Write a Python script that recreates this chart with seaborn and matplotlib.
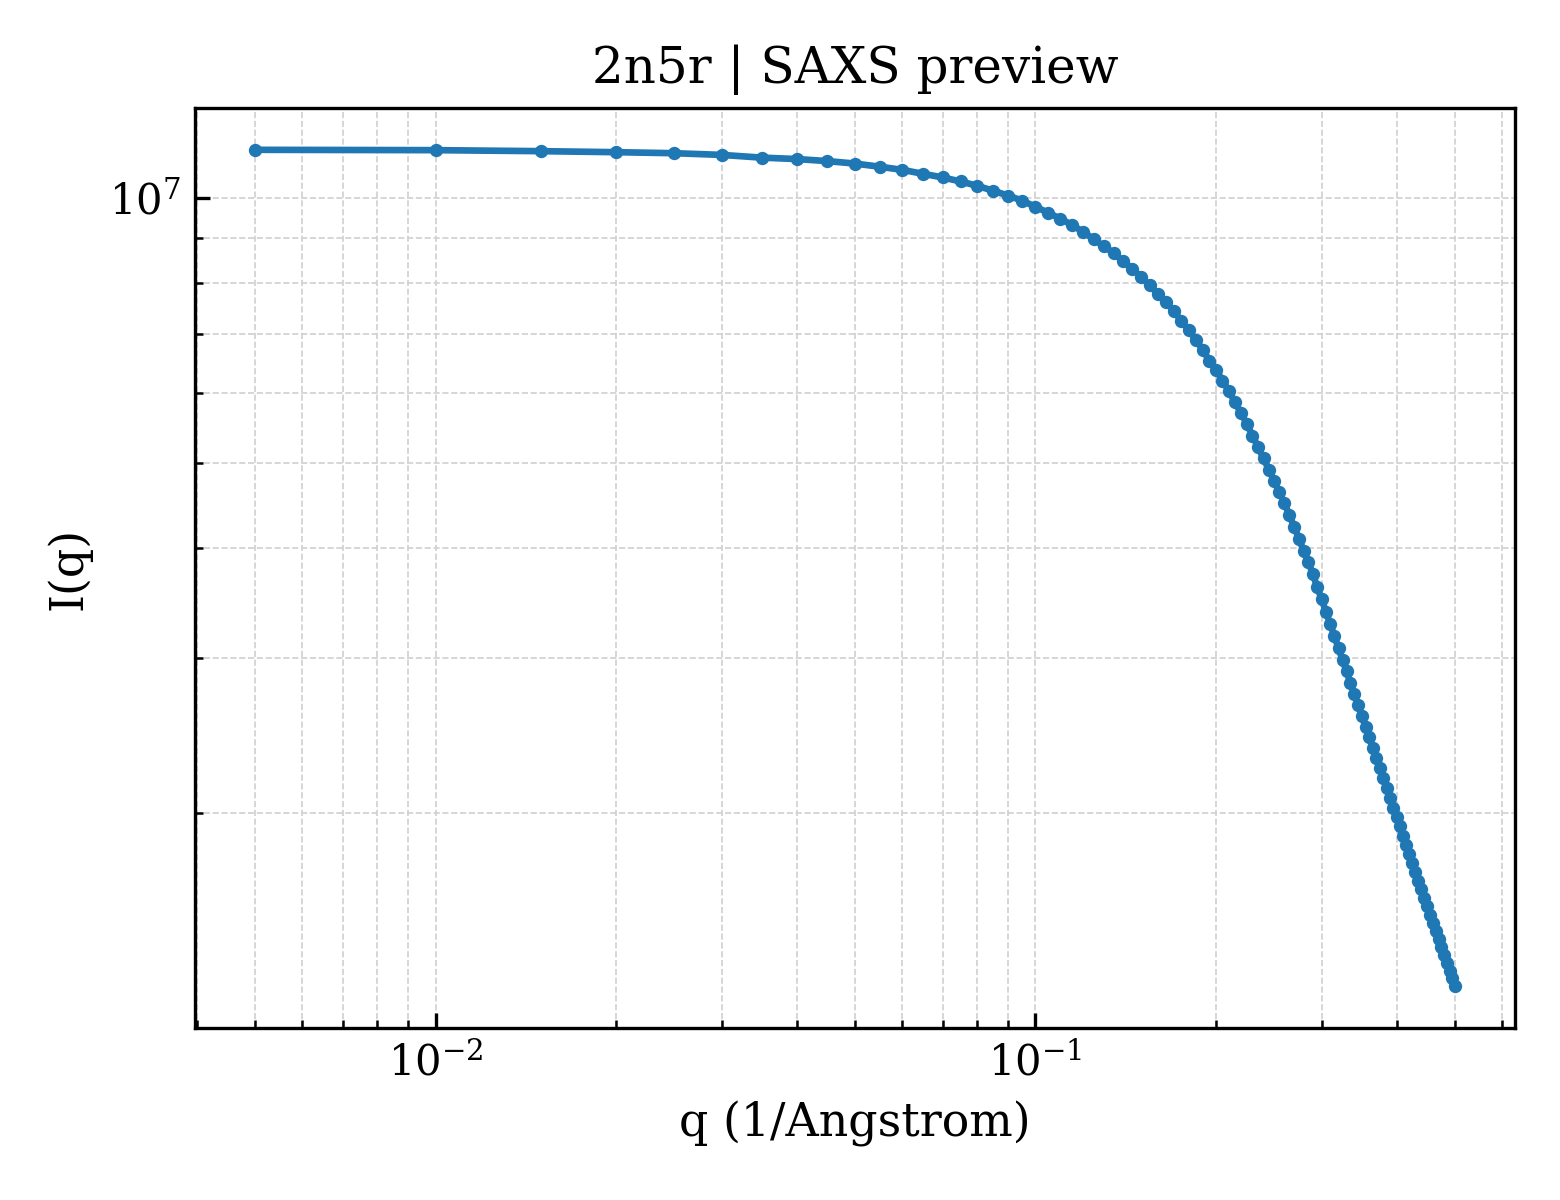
import numpy as np
import pandas as pd
import seaborn as sns
import matplotlib
matplotlib.use("Agg")
import matplotlib.pyplot as plt

# Data
q_values = np.round(np.arange(1, 101) * 0.005, 3)
intensity = [
    1.134e7, 1.133e7, 1.130e7, 1.127e7, 1.124e7, 1.119e7, 1.111e7, 1.107e7, 1.101e7, 1.094e7,
    1.085e7, 1.076e7, 1.065e7, 1.055e7, 1.044e7, 1.032e7, 1.019e7, 1.006e7, 9.93e6, 9.77e6,
    9.62e6, 9.47e6, 9.32e6, 9.15e6, 8.98e6, 8.81e6, 8.66e6, 8.47e6, 8.31e6, 8.13e6,
    7.96e6, 7.78e6, 7.62e6, 7.44e6, 7.25e6, 7.08e6, 6.90e6, 6.72e6, 6.53e6, 6.38e6,
    6.20e6, 6.04e6, 5.86e6, 5.70e6, 5.54e6, 5.37e6, 5.21e6, 5.06e6, 4.91e6, 4.77e6,
    4.63e6, 4.50e6, 4.36e6, 4.23e6, 4.10e6, 3.97e6, 3.86e6, 3.74e6, 3.61e6, 3.50e6,
    3.387e6, 3.280e6, 3.178e6, 3.080e6, 2.987e6, 2.898e6, 2.813e6, 2.732e6, 2.654e6, 2.579e6,
    2.508e6, 2.439e6, 2.374e6, 2.311e6, 2.250e6, 2.192e6, 2.136e6, 2.082e6, 2.030e6, 1.980e6,
    1.932e6, 1.886e6, 1.841e6, 1.798e6, 1.756e6, 1.716e6, 1.677e6, 1.640e6, 1.603e6, 1.568e6,
    1.534e6, 1.501e6, 1.470e6, 1.439e6, 1.409e6, 1.380e6, 1.352e6, 1.325e6, 1.299e6, 1.272e6,
]
title = "2n5r | SAXS preview"

sns.set_theme(style="ticks")
plt.rcParams["font.family"] = "DejaVu Serif"
plt.rcParams["mathtext.fontset"] = "dejavuserif"
plt.rcParams["text.color"] = "black"
plt.rcParams["axes.labelcolor"] = "black"

df = pd.DataFrame({"q": q_values, "I": intensity})

fig, ax = plt.subplots(figsize=(5.2, 4), dpi=300)
fig.subplots_adjust(left=0.125, right=0.971, top=0.91, bottom=0.1433)

sns.lineplot(data=df, x="q", y="I", ax=ax, color="#1f77b4", linewidth=1.6,
             marker="o", markersize=3.2, markeredgewidth=0)
ax.set_xscale("log")
ax.set_yscale("log")

ax.grid(True, which="both", linestyle="--", linewidth=0.4, color="#d0d0d0")
ax.set_axisbelow(True)
for s in ax.spines.values():
    s.set_linewidth(0.8)
    s.set_color("black")

ax.tick_params(which="both", direction="in", labelsize=10, colors="black")
ax.tick_params(which="major", length=3.5, width=0.8)
ax.tick_params(which="minor", length=2, width=0.6)
ax.set_xlabel("q (1/Angstrom)", fontsize=11)
ax.set_ylabel("I(q)", fontsize=11)
ax.set_title(title, fontsize=12)

fig.savefig("out.png", dpi=300)
